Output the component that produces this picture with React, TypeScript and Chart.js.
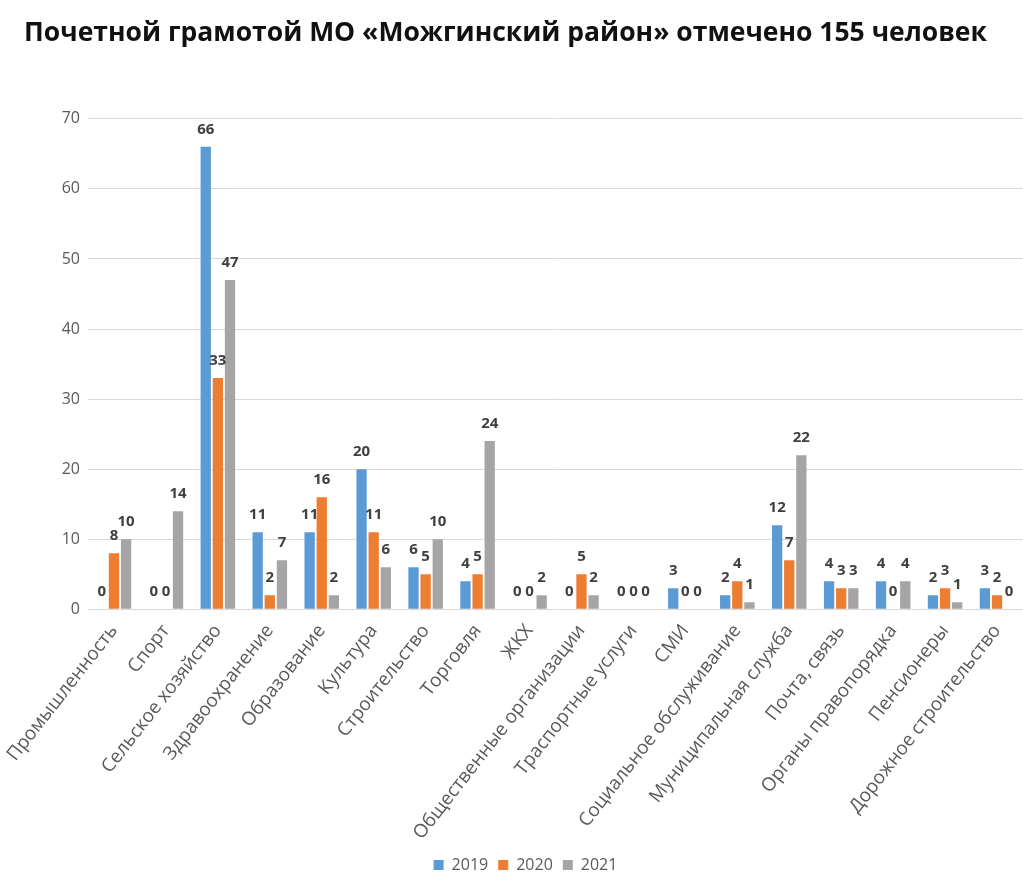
import React, { useEffect, useRef } from "react";
import { Chart, registerables } from "chart.js";

Chart.register(...registerables);

const categories = [
  "Промышленность",
  "Спорт",
  "Сельское хозяйство",
  "Здравоохранение",
  "Образование",
  "Культура",
  "Строительство",
  "Торговля",
  "ЖКХ",
  "Общественные организации",
  "Траспортные услуги",
  "СМИ",
  "Социальное обслуживание",
  "Муниципальная служба",
  "Почта, связь",
  "Органы правопорядка",
  "Пенсионеры",
  "Дорожное строительство",
];

const values2019 = [0, 0, 66, 11, 11, 20, 6, 4, 0, 0, 0, 3, 2, 12, 4, 4, 2, 3];
const values2020 = [8, 0, 33, 2, 16, 11, 5, 5, 0, 5, 0, 0, 4, 7, 3, 0, 3, 2];
const values2021 = [10, 14, 47, 7, 2, 6, 10, 24, 2, 2, 0, 0, 1, 22, 3, 4, 1, 0];

const seriesNames = ["2019", "2020", "2021"];
const yTicks = [0, 10, 20, 30, 40, 50, 60, 70];

const FONT = "'Open Sans', 'DejaVu Sans', sans-serif";

const valueLabels = {
  id: "valueLabels",
  afterDatasetsDraw(chart: any) {
    const ctx = chart.ctx;
    ctx.save();
    ctx.font = `bold 15px ${FONT}`;
    ctx.fillStyle = "#404040";
    ctx.textAlign = "center";
    ctx.textBaseline = "bottom";
    chart.data.datasets.forEach((ds: any, i: number) => {
      const meta = chart.getDatasetMeta(i);
      meta.data.forEach((bar: any, j: number) => {
        ctx.fillText(String(ds.data[j]), bar.x, bar.y - 10);
      });
    });
    ctx.restore();
  },
};

const shiftBoxes = {
  id: "shiftBoxes",
  afterLayout(chart: any) {
    if (chart.legend) {
      chart.legend.left += 14;
      chart.legend.right += 14;
    }
    if (chart.titleBlock) {
      chart.titleBlock.left -= 6;
      chart.titleBlock.right -= 6;
    }
  },
};

export default function App() {
  const ref = useRef<HTMLCanvasElement | null>(null);

  useEffect(() => {
    if (!ref.current) return;
    const chart = new Chart(ref.current, {
      type: "bar",
      data: {
        labels: categories,
        datasets: [
          { label: seriesNames[0], data: values2019, backgroundColor: "#5B9BD5" },
          { label: seriesNames[1], data: values2020, backgroundColor: "#ED7D31" },
          { label: seriesNames[2], data: values2021, backgroundColor: "#A5A5A5" },
        ],
      },
      options: {
        animation: false,
        responsive: true,
        maintainAspectRatio: false,
        datasets: {
          bar: { categoryPercentage: 0.7, barPercentage: 0.85 },
        },
        layout: { padding: { left: 0, right: 0, top: 0, bottom: -4 } },
        plugins: {
          title: {
            display: true,
            text: "Почетной грамотой МО «Можгинский район» отмечено 155 человек",
            color: "#111",
            font: { family: FONT, size: 26.5, weight: "bold" },
            padding: { top: 18, bottom: 69 },
          },
          legend: {
            position: "bottom",
            labels: {
              boxWidth: 10,
              boxHeight: 10,
              color: "#595959",
              font: { family: FONT, size: 16 },
              padding: 10,
            },
          },
          tooltip: { enabled: false },
        },
        scales: {
          x: {
            grid: { display: false },
            border: { display: false },
            ticks: {
              color: "#595959",
              font: { family: FONT, size: 18.8 },
              maxRotation: 52,
              minRotation: 52,
              autoSkip: false,
            },
          },
          y: {
            min: 0,
            max: 70,
            afterBuildTicks: (axis: any) => {
              axis.ticks = yTicks.map((v) => ({ value: v }));
            },
            afterFit: (axis: any) => {
              axis.width = 88;
            },
            grid: { color: "#d9d9d9", drawTicks: false },
            border: { display: false },
            ticks: {
              color: "#595959",
              font: { family: FONT, size: 16 },
              padding: 8,
            },
          },
        },
      },
      plugins: [valueLabels, shiftBoxes],
    });
    return () => chart.destroy();
  }, []);

  return (
    <div style={{ position: "fixed", left: 0, top: 0, width: 1023, height: 879, background: "#fff" }}>
      <canvas ref={ref} />
    </div>
  );
}
